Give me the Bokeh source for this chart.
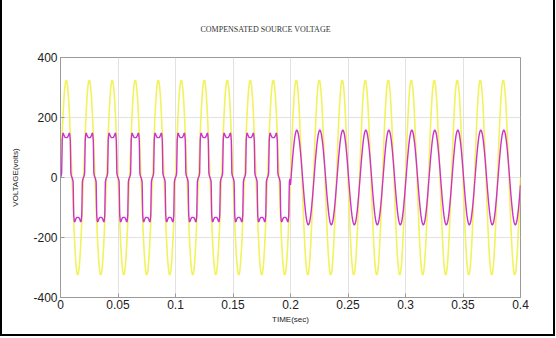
import numpy as np
from bokeh.plotting import figure
from bokeh.models import FixedTicker, Title
from bokeh.embed import file_html
from bokeh.resources import INLINE

SAMPLE_DT = 0.0005          # seconds between samples
CYCLES_TOTAL = 20           # 50 Hz over 0.4 s
CYCLES_DISTORTED = 10       # magenta is distorted up to 0.2 s

# yellow: source voltage, positive half-cycle (V), ~325 V peak
source_half = [0, 51, 100, 148, 191, 230, 263, 290, 309, 321,
               325, 321, 309, 290, 263, 230, 191, 148, 100, 51]

# magenta before 0.2 s: quasi-square with dead band and "M" top (V)
distorted_half = [0, 5, 15, 125, 146, 148, 142, 137, 134, 133,
                  133, 133, 134, 137, 142, 148, 146, 125, 15, 5]

# magenta after 0.2 s: sinusoid ~158 V peak, slight lag (one full cycle, V)
compensated_cycle = [-25, 0, 25, 49, 72, 93, 112, 128, 141, 150,
                     156, 158, 156, 150, 141, 128, 112, 93, 72, 49,
                     25, 0, -25, -49, -72, -93, -112, -128, -141, -150,
                     -156, -158, -156, -150, -141, -128, -112, -93, -72, -49]

x_ticks = [0, 0.05, 0.1, 0.15, 0.2, 0.25, 0.3, 0.35, 0.4]
x_tick_labels = ["0", "0.05", "0.1", "0.15", "0.2", "0.25", "0.3", "0.35", "0.4"]
y_ticks = [-400, -200, 0, 200, 400]
y_tick_labels = ["-400", "-200", "0", "200", "400"]

# ---- build series ----
source_cycle = source_half + [-v for v in source_half]
yellow = np.array(source_cycle * CYCLES_TOTAL + [0], dtype=float)
dist_cycle = distorted_half + [-v for v in distorted_half]
magenta = np.array(dist_cycle * CYCLES_DISTORTED +
                   compensated_cycle * (CYCLES_TOTAL - CYCLES_DISTORTED) + [-25], dtype=float)
t = np.arange(len(yellow)) * SAMPLE_DT

p = figure(width=555, height=336, x_range=(0, 0.4), y_range=(-400, 400),
           output_backend="svg", toolbar_location=None,
           min_border_left=58, min_border_right=37, min_border_top=57, min_border_bottom=39)
p.styles = {"border-left": "2px solid black", "border-right": "2px solid black",
            "border-bottom": "2px solid black"}
p.background_fill_color = "white"
p.border_fill_color = "white"
p.outline_line_color = "#9a9a9a"
p.outline_line_width = 1

p.title = Title(text="COMPENSATED SOURCE VOLTAGE", align="left", offset=140,
                text_font="Liberation Serif", text_font_size="8px",
                text_font_style="normal", text_color="#333333", standoff=44,
                vertical_align="top")

p.line(t, yellow, line_color="#f2f25e", line_width=1.6)
p.line(t, magenta, line_color="#cc33cc", line_width=1.4)

p.xaxis.ticker = FixedTicker(ticks=x_ticks)
p.xaxis.major_label_overrides = dict(zip(x_ticks, x_tick_labels))
p.yaxis.ticker = FixedTicker(ticks=y_ticks)
p.yaxis.major_label_overrides = dict(zip(y_ticks, y_tick_labels))

for ax in (p.xaxis[0], p.yaxis[0]):
    ax.axis_line_color = "#9a9a9a"
    ax.major_tick_line_color = "#9a9a9a"
    ax.major_tick_in = 4
    ax.major_tick_out = 0
    ax.minor_tick_line_color = None
    ax.major_label_text_font = "Liberation Sans"
    ax.major_label_text_font_size = "12px"
    ax.major_label_text_color = "#222222"
    ax.axis_label_text_font = "Liberation Sans"
    ax.axis_label_text_font_size = "8px"
    ax.axis_label_text_font_style = "normal"
    ax.axis_label_text_color = "#222222"

p.xaxis.axis_label = "TIME(sec)"
p.yaxis.axis_label = "VOLTAGE(volts)"
p.xaxis.major_label_standoff = 2
p.xaxis.axis_label_standoff = 3
p.yaxis.major_label_standoff = 3
p.yaxis.axis_label_standoff = 10

p.xgrid.grid_line_color = "#e2e2e2"
p.ygrid.grid_line_color = "#e2e2e2"
p.xgrid.ticker = FixedTicker(ticks=x_ticks)
p.ygrid.ticker = FixedTicker(ticks=y_ticks)

open("out.html", "w").write(file_html(p, INLINE))
